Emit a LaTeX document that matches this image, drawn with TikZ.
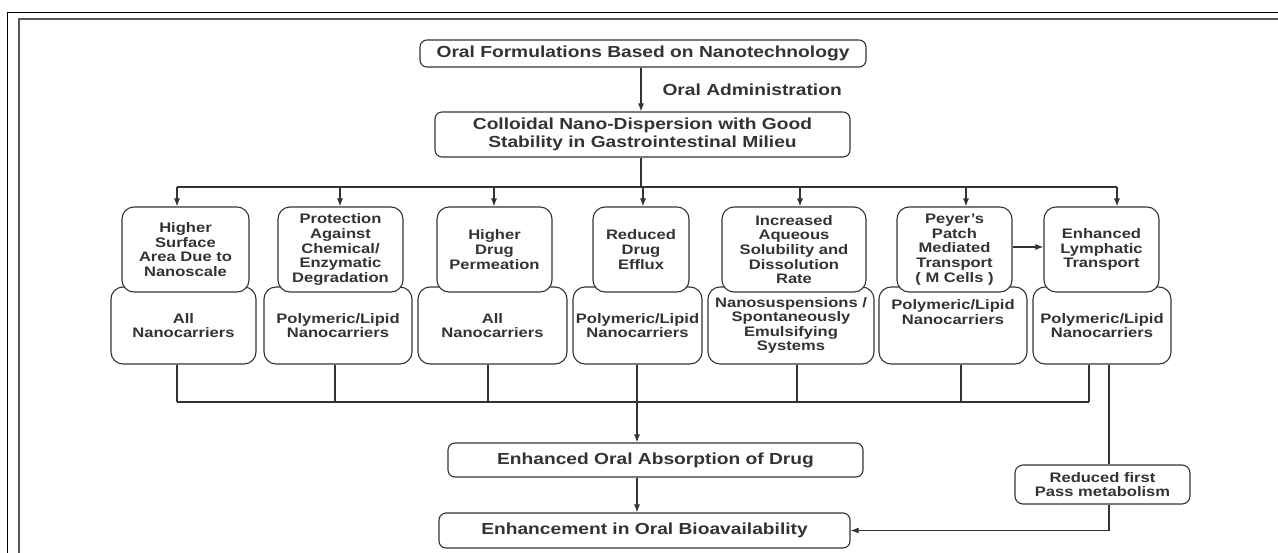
\documentclass[tikz,border=0pt]{standalone}
\usepackage{fontspec}
\setmainfont{Liberation Sans}[FakeStretch=1.2]
\usetikzlibrary{arrows.meta}
\definecolor{ink}{HTML}{333333}
\definecolor{framegray}{HTML}{555555}
\begin{document}
\begin{tikzpicture}[x=1pt,y=-1pt,
  line width=1.1pt, draw=ink,
  bigbox/.style={draw=ink, line width=1.1pt, rounded corners=7pt, fill=white, text=ink,
    font=\fontsize{16}{18}\selectfont\bfseries, align=center, inner sep=0pt},
  colbox/.style={draw=ink, line width=1.1pt, rounded corners=12pt, fill=white, text=ink,
    font=\fontsize{13.8}{14.6}\selectfont\bfseries, align=center, inner sep=0pt},
  plain/.style={text=ink, font=\fontsize{16}{18}\selectfont\bfseries, inner sep=0pt},
  arr/.style={draw=ink, line width=1.1pt, -{Latex[length=8pt,width=6pt]}},
  conn/.style={draw=ink, line width=1.1pt}]
\useasboundingbox (0,0) rectangle (1278,552);

% frame
\draw[black, line width=1pt] (7,560) -- (7,12) -- (1290,12);
\draw[framegray, line width=1.8pt] (19,560) -- (19,19) -- (1290,19);

% top chain
\node[bigbox, minimum width=446pt, minimum height=27pt] (t1) at (643,53.5) {Oral Formulations Based on Nanotechnology};
\node[bigbox, minimum width=415pt, minimum height=45pt] (t2) at (642.5,134.5) {Colloidal Nano-Dispersion with Good\\Stability in Gastrointestinal Milieu};
\coordinate (vx) at (641,0);
\draw[arr] (t1.south -| vx) -- (t2.north -| vx);
\node[plain, anchor=west] (oa) at (662,90) {Oral Administration};

% upper bus
\coordinate (aA) at (177,187);
\coordinate (aB) at (340,187);
\coordinate (aC) at (494,187);
\coordinate (aD) at (643,187);
\coordinate (aE) at (800,187);
\coordinate (aF) at (966,187);
\coordinate (aG) at (1117,187);
\draw[conn] (t2.south -| vx) -- (vx |- aA);
\draw[conn] (aA) -- (aG);

% lower boxes
\node[colbox, minimum width=145pt, minimum height=77pt] (la) at (183.5,325.5) {All\\Nanocarriers};
\node[colbox, minimum width=148pt, minimum height=77pt] (lb) at (338,325.5) {Polymeric/Lipid\\Nanocarriers};
\node[colbox, minimum width=149pt, minimum height=77pt] (lc) at (492.5,325.5) {All\\Nanocarriers};
\node[colbox, minimum width=129pt, minimum height=77pt] (ld) at (637.5,325.5) {Polymeric/Lipid\\Nanocarriers};
\node[colbox, minimum width=166pt, minimum height=77pt] (le) at (791,325.5) {Nanosuspensions /\\Spontaneously\\Emulsifying\\Systems};
\node[colbox, minimum width=148pt, minimum height=77pt] (lf) at (953,325.5) {Polymeric/Lipid\\Nanocarriers\\[12pt]};
\node[colbox, minimum width=138pt, minimum height=77pt] (lg) at (1102,325.5) {Polymeric/Lipid\\Nanocarriers};

% upper boxes
\node[colbox, minimum width=127pt, minimum height=85pt] (ta) at (185.5,249.5) {Higher\\Surface\\Area Due to\\Nanoscale};
\node[colbox, minimum width=125pt, minimum height=85pt] (tb) at (340.5,249.5) {Protection\\Against\\Chemical/\\Enzymatic\\Degradation};
\node[colbox, minimum width=115pt, minimum height=85pt] (tc) at (494.5,249.5) {Higher\\Drug\\Permeation};
\node[colbox, minimum width=96pt, minimum height=85pt] (td) at (641,249.5) {Reduced\\Drug\\Efflux};
\node[colbox, minimum width=144pt, minimum height=85pt] (te) at (794,249.5) {Increased\\Aqueous\\Solubility and\\Dissolution\\Rate};
\node[colbox, minimum width=115pt, minimum height=85pt] (tf) at (954.5,249.5) {Peyer's\\Patch\\Mediated\\Transport\\( M Cells )};
\node[colbox, minimum width=115pt, minimum height=85pt] (tg) at (1101.5,249.5) {Enhanced\\Lymphatic\\Transport};

\draw[arr] (aA) -- (aA |- ta.north);
\draw[arr] (aB) -- (aB |- tb.north);
\draw[arr] (aC) -- (aC |- tc.north);
\draw[arr] (aD) -- (aD |- td.north);
\draw[arr] (aE) -- (aE |- te.north);
\draw[arr] (aF) -- (aF |- tf.north);
\draw[arr] (aG) -- (aG |- tg.north);

\draw[arr] ([yshift=2.5pt]tf.east) -- ([yshift=2.5pt]tg.west);

% lower bus
\coordinate (dA) at (177,402);
\coordinate (dB) at (335,402);
\coordinate (dC) at (488,402);
\coordinate (dD) at (637,402);
\coordinate (dE) at (797,402);
\coordinate (dF) at (961,402);
\coordinate (dG) at (1089,402);
\draw[conn] (la.south -| dA) -- (dA);
\draw[conn] (lb.south -| dB) -- (dB);
\draw[conn] (lc.south -| dC) -- (dC);
\draw[conn] (ld.south -| dD) -- (dD);
\draw[conn] (le.south -| dE) -- (dE);
\draw[conn] (lf.south -| dF) -- (dF);
\draw[conn] (lg.south -| dG) -- (dG);
\draw[conn] (dA) -- (dG);

% bottom chain
\node[bigbox, minimum width=415pt, minimum height=34pt] (ab) at (655.5,460) {Enhanced Oral Absorption of Drug};
\node[bigbox, minimum width=411pt, minimum height=35pt] (eb) at (644.5,530.5) {Enhancement in Oral Bioavailability};
\node[colbox, rounded corners=8pt, minimum width=175pt, minimum height=39pt] (rf) at (1102.5,484.5) {Reduced first\\Pass metabolism};

\draw[arr] (dD) -- (dD |- ab.north);
\draw[arr] (ab.south -| dD) -- (eb.north -| dD);

\coordinate (gx) at (1109,0);
\draw[conn] (lg.south -| gx) -- (rf.north -| gx);
\draw[arr] (rf.south -| gx) |- (eb.east);
\end{tikzpicture}
\end{document}
